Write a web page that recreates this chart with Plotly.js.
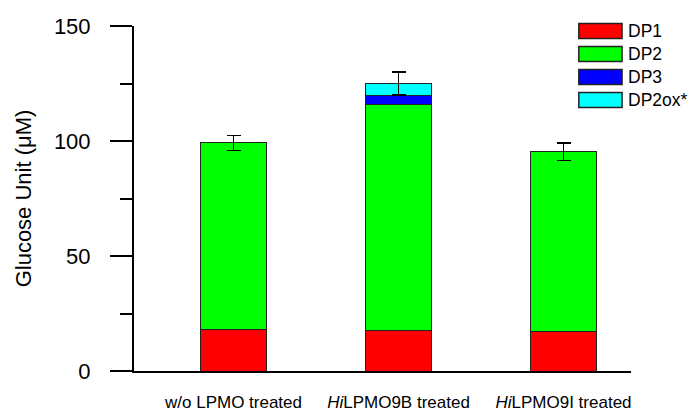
<!DOCTYPE html>
<html><head><meta charset="utf-8">
<script src="https://cdn.plot.ly/plotly-3.0.1.min.js"></script>
<style>html,body{margin:0;padding:0;background:#fff}#c{width:693px;height:413px}</style>
</head><body><div id="c"></div>
<script>
const categories = ["w/o LPMO treated", "<i>Hi</i>LPMO9B treated", "<i>Hi</i>LPMO9I treated"];
const seriesNames = ["DP1", "DP2", "DP3", "DP2ox*"];
const seriesColors = ["#ff0000", "#00ff00", "#0000ff", "#00ffff"];
const dp1 = [18.1, 17.8, 17.0];
const dp2 = [81.1, 98.1, 78.4];
const dp3 = [0, 3.9, 0];
const dp2ox = [0, 5.1, 0];
const totalErr = [3.3, 5.0, 3.8];
const yTicks = [0, 50, 100, 150];
const yMinorTicks = [25, 75, 125];

const seriesValues = [dp1, dp2, dp3, dp2ox];
const xs = [0, 1, 2];
const FONT = "Liberation Sans, Arial, sans-serif";
const traces = seriesValues.map((vals, i) => {
  const t = {
    type: "bar", x: xs, y: vals, name: seriesNames[i], width: 0.405,
    marker: {color: seriesColors[i], line: {color: "#222", width: 1}},
    showlegend: false, hoverinfo: "skip"
  };
  if (i === seriesValues.length - 1) {
    t.error_y = {type: "data", array: totalErr, visible: true, color: "#000", thickness: 1.5, width: 7};
  }
  return t;
});

const shapes = [], annotations = [];
seriesNames.forEach((n, i) => {
  const yc = 0.9855 - i * 0.0667;
  shapes.push({type: "rect", xref: "paper", yref: "paper",
    x0: 0.895, x1: 0.982, y0: yc - 0.0217, y1: yc + 0.0217,
    fillcolor: seriesColors[i], line: {color: "#222", width: 1.5}});
  annotations.push({xref: "paper", yref: "paper", x: 0.99, y: yc, xanchor: "left", yanchor: "middle",
    text: n, showarrow: false, font: {family: FONT, size: 17.5, color: "#000"}});
});

const layout = {
  width: 693, height: 413,
  margin: {l: 134, r: 62, t: 26, b: 42},
  paper_bgcolor: "#fff", plot_bgcolor: "#fff",
  barmode: "stack",
  font: {family: FONT, color: "#000"},
  xaxis: {
    range: [-0.603, 2.409], tickvals: xs, ticktext: categories,
    showline: true, linecolor: "#000", linewidth: 2, ticks: "", showgrid: false, zeroline: false,
    tickfont: {size: 17}, ticklabelstandoff: 15
  },
  yaxis: {
    range: [0, 150], tickvals: yTicks, showline: true, linecolor: "#000", linewidth: 2,
    ticks: "outside", ticklen: 22, tickwidth: 2, tickcolor: "#000",
    showgrid: false, zeroline: false, tickfont: {size: 22}, ticklabelstandoff: 15,
    minor: {tickvals: yMinorTicks, ticks: "outside", ticklen: 12, tickwidth: 2, tickcolor: "#000"},
    title: {text: "Glucose Unit (μM)", font: {size: 22}, standoff: 16}
  },
  shapes: shapes, annotations: annotations
};
Plotly.newPlot("c", traces, layout, {displayModeBar: false, staticPlot: true});
</script></body></html>
